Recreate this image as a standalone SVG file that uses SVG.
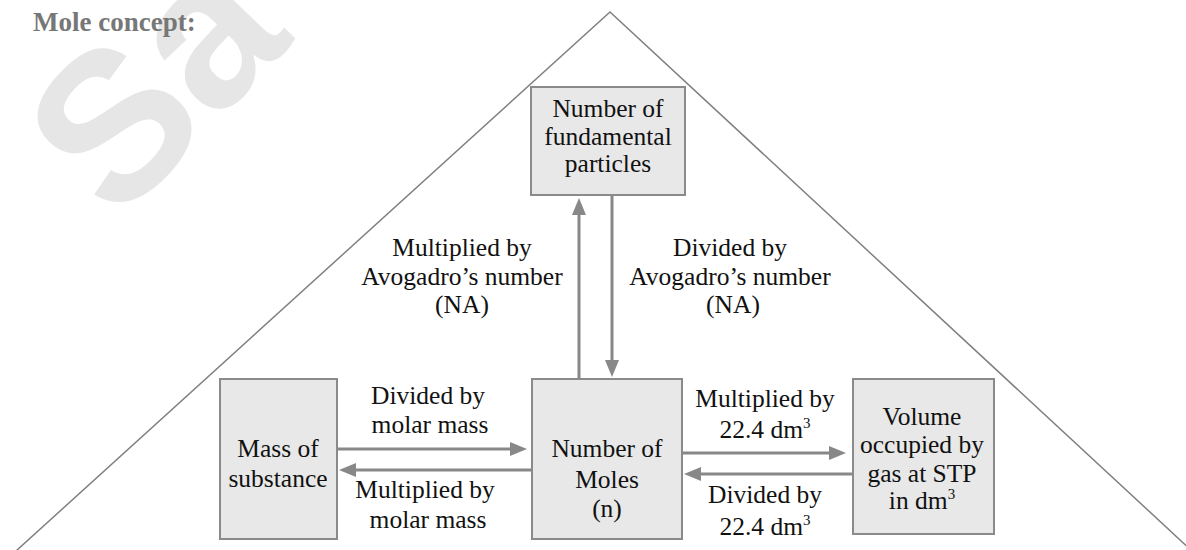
<svg xmlns="http://www.w3.org/2000/svg" width="1186" height="550" viewBox="0 0 1186 550">
<style>
.box{fill:#e8e8e8;stroke:#8a8a8a;stroke-width:2}
.t{font-family:"Liberation Serif","Times New Roman",serif;font-size:25.5px;fill:#111;text-anchor:middle}
.arr{stroke:#888;stroke-width:3;fill:none;marker-end:url(#ah)}
.sup{font-size:15px}
</style>
<defs>
<marker id="ah" markerUnits="userSpaceOnUse" markerWidth="17" markerHeight="16" refX="9" refY="8" orient="auto">
<path d="M0,1 L17,8 L0,15 z" fill="#888"/>
</marker>
</defs>
<rect width="1186" height="550" fill="#fff"/>
<g id="watermark">
<text x="117" y="225" transform="rotate(-46 117 225)" font-family="Liberation Sans, Arial, sans-serif" font-weight="bold" font-size="210" fill="#e6e6e6">Sa</text>
</g>
<g id="title">
<text x="33" y="31" font-family="Liberation Serif, Times New Roman, serif" font-weight="bold" font-size="27" fill="#777">Mole concept:</text>
</g>
<g id="triangle">
<polyline points="16,551 610,12 1192,551" fill="none" stroke="#808080" stroke-width="1.5"/>
</g>
<g id="connectors">
<line class="arr" x1="337" y1="449" x2="519" y2="449"/>
<line class="arr" x1="532" y1="470" x2="347" y2="470"/>
<line class="arr" x1="682" y1="453" x2="838" y2="453"/>
<line class="arr" x1="853" y1="474" x2="692" y2="474"/>
<line class="arr" x1="579" y1="379" x2="579" y2="206"/>
<line class="arr" x1="612" y1="196" x2="612" y2="369"/>
</g>
<g id="labels">
<text class="t" x="428" y="404">Divided by</text>
<text class="t" x="430" y="433">molar mass</text>
<text class="t" x="425" y="498">Multiplied by</text>
<text class="t" x="428" y="528">molar mass</text>
<text class="t" x="765" y="407">Multiplied by</text>
<text class="t" x="765" y="438">22.4 dm<tspan class="sup" dy="-10">3</tspan></text>
<text class="t" x="765" y="503">Divided by</text>
<text class="t" x="765" y="535">22.4 dm<tspan class="sup" dy="-10">3</tspan></text>
<text class="t" x="462" y="256">Multiplied by</text>
<text class="t" x="462" y="285">Avogadro’s number</text>
<text class="t" x="462" y="313">(NA)</text>
<text class="t" x="730" y="256">Divided by</text>
<text class="t" x="730" y="285">Avogadro’s number</text>
<text class="t" x="733" y="313">(NA)</text>
</g>
<g id="node-particles">
<rect class="box" x="531" y="87" width="154" height="108"/>
<text class="t" x="608" y="117">Number of</text>
<text class="t" x="608" y="145">fundamental</text>
<text class="t" x="608" y="172">particles</text>
</g>
<g id="node-mass">
<rect class="box" x="220" y="379" width="117" height="160"/>
<text class="t" x="278" y="457">Mass of</text>
<text class="t" x="278" y="487">substance</text>
</g>
<g id="node-moles">
<rect class="box" x="532" y="379" width="150" height="160"/>
<text class="t" x="607" y="457">Number of</text>
<text class="t" x="607" y="488">Moles</text>
<text class="t" x="607" y="517">(n)</text>
</g>
<g id="node-volume">
<rect class="box" x="853" y="379" width="141" height="155"/>
<text class="t" x="922" y="425">Volume</text>
<text class="t" x="922" y="453">occupied by</text>
<text class="t" x="922" y="482">gas at STP</text>
<text class="t" x="922" y="509">in dm<tspan class="sup" dy="-10">3</tspan></text>
</g>
</svg>
